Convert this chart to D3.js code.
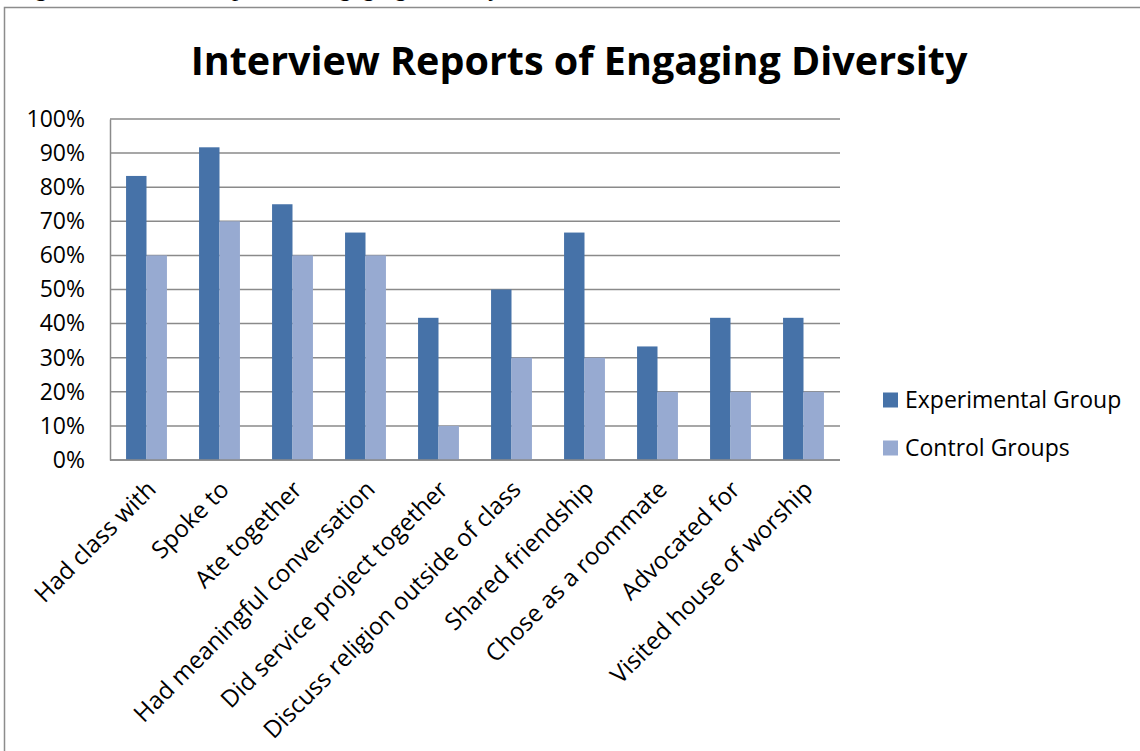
<!DOCTYPE html>
<html>
<head>
<meta charset="utf-8">
<script src="https://cdn.jsdelivr.net/npm/d3@7"></script>
<style>
  body { margin: 0; background: #fff; }
  svg { display: block; }
</style>
</head>
<body>
<svg id="chart" width="1140" height="751"></svg>
<script>
var categories = ['Had class with', 'Spoke to', 'Ate together', 'Had meaningful conversation',
  'Did service project together', 'Discuss religion outside of class', 'Shared friendship',
  'Chose as a roommate', 'Advocated for', 'Visited house of worship'];
var seriesNames = ['Experimental Group', 'Control Groups'];
var experimental = [83.3, 91.7, 75, 66.7, 41.7, 50, 66.7, 33.3, 41.7, 41.7];
var control = [60, 70, 60, 60, 10, 30, 30, 20, 20, 20];
var yTicks = [0, 10, 20, 30, 40, 50, 60, 70, 80, 90, 100];
var colors = ['#4672a8', '#97aad1'];

var svg = d3.select('#chart');
var font = '"Open Sans", Lato, sans-serif';

// caption of the page above, only its descenders show
svg.append('text')
  .attr('x', 14)
  .attr('y', -4)
  .attr('font-family', '"Liberation Serif", serif')
  .attr('font-size', 25)
  .attr('fill', '#000')
  .text('Figure 2. Interview reports of engaging diversity');

// frame of the chart object
svg.append('path')
  .attr('d', 'M4.5,760V7.5H1150')
  .attr('fill', 'none')
  .attr('stroke', '#8c8c8c')
  .attr('stroke-width', 1.5);

svg.append('text')
  .attr('x', 579)
  .attr('y', 75)
  .attr('text-anchor', 'middle')
  .attr('font-family', font)
  .attr('font-weight', 'bold')
  .attr('font-size', 39.5)
  .attr('fill', '#000')
  .text('Interview Reports of Engaging Diversity');

var plotLeft = 110, plotRight = 840, plotTop = 119, plotBottom = 460;

var x0 = d3.scaleBand()
  .domain(categories)
  .range([plotLeft, plotRight])
  .paddingInner(0.44)
  .paddingOuter(0.22);

var x1 = d3.scaleBand()
  .domain(seriesNames)
  .range([0, x0.bandwidth()]);

var y = d3.scaleLinear()
  .domain([0, 100])
  .range([plotBottom, plotTop]);

// gridlines
svg.append('g')
  .selectAll('line')
  .data(yTicks)
  .enter().append('line')
  .attr('x1', plotLeft)
  .attr('x2', plotRight)
  .attr('y1', function(d) { return y(d); })
  .attr('y2', function(d) { return y(d); })
  .attr('stroke', '#8a8a8a')
  .attr('stroke-width', 1.5);

var yAxis = svg.append('g')
  .attr('transform', 'translate(' + plotLeft + ',0)')
  .call(d3.axisLeft(y).tickValues(yTicks).tickSize(0).tickPadding(25)
    .tickFormat(function(d) { return d + '%'; }));
yAxis.select('.domain').attr('stroke', '#8a8a8a').attr('stroke-width', 1.5);
yAxis.selectAll('text')
  .attr('font-family', font)
  .attr('font-size', 23)
  .attr('fill', '#000');

var series = [experimental, control];
var groups = svg.append('g')
  .selectAll('g')
  .data(categories)
  .enter().append('g')
  .attr('transform', function(d) { return 'translate(' + x0(d) + ',0)'; });

groups.selectAll('rect')
  .data(function(d, i) {
    return seriesNames.map(function(s, j) { return { key: s, value: series[j][i], idx: j }; });
  })
  .enter().append('rect')
  .attr('x', function(d) { return x1(d.key); })
  .attr('y', function(d) { return y(d.value); })
  .attr('width', x1.bandwidth())
  .attr('height', function(d) { return plotBottom - y(d.value); })
  .attr('fill', function(d) { return colors[d.idx]; });

// bottom axis line on top of bars
svg.append('line')
  .attr('x1', plotLeft).attr('x2', plotRight)
  .attr('y1', plotBottom).attr('y2', plotBottom)
  .attr('stroke', '#8a8a8a')
  .attr('stroke-width', 1.5);

// rotated category labels
svg.append('g')
  .selectAll('text')
  .data(categories)
  .enter().append('text')
  .attr('transform', function(d) {
    var cx = x0(d) + x0.bandwidth() / 2 + 5;
    return 'translate(' + cx + ',485) rotate(-45)';
  })
  .attr('text-anchor', 'end')
  .attr('dy', '0.35em')
  .attr('font-family', font)
  .attr('font-size', 24)
  .attr('fill', '#000')
  .text(function(d) { return d; });

// legend
var legend = svg.append('g')
  .selectAll('g')
  .data(seriesNames)
  .enter().append('g')
  .attr('transform', function(d, i) { return 'translate(883,' + (400 + i * 48) + ')'; });

legend.append('rect')
  .attr('x', 0).attr('y', -7.5)
  .attr('width', 15).attr('height', 15)
  .attr('fill', function(d, i) { return colors[i]; });

legend.append('text')
  .attr('x', 22)
  .attr('dy', '0.35em')
  .attr('font-family', font)
  .attr('font-size', 23)
  .attr('fill', '#000')
  .text(function(d) { return d; });
</script>
</body>
</html>
